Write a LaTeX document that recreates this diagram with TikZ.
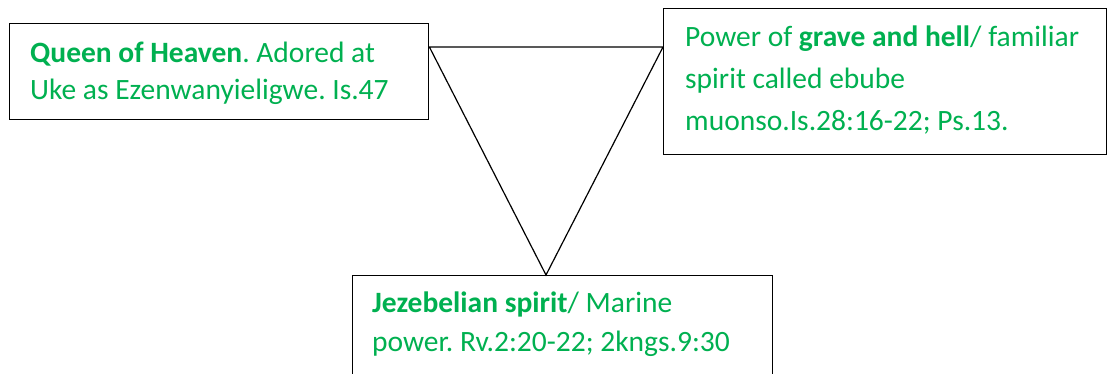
\documentclass[tikz,border=0pt]{standalone}
\usepackage{fontspec}
\setmainfont{Carlito}
\frenchspacing
\definecolor{spiritgreen}{RGB}{0,176,80}
\tikzset{
  box/.style={draw, rectangle, line width=1.4pt, inner sep=0pt, anchor=north west},
  txt/.style={anchor=base west, inner sep=0pt, text=spiritgreen, font=\fontsize{29.5}{37}\selectfont},
  tri/.style={line width=1.2pt, line join=miter}
}
\begin{document}
\begin{tikzpicture}[x=1pt, y=-1pt]
    \useasboundingbox (0,0) rectangle (1109,373);

    \node[box, minimum width=419, minimum height=96] (queen) at (9,23) {};
    \node[box, minimum width=443, minimum height=146] (grave) at (663,8) {};
    \node[box, minimum width=420, minimum height=150] (jezebel) at (352,275) {};

    \node[txt] (q1) at ([shift={(21,39)}]queen.north west) {\textbf{Queen of Heaven}. Adored at};
    \node[txt] (q2) at ([shift={(21,76)}]queen.north west) {Uke as Ezenwanyieligwe. Is.47};

    \node[txt] (g1) at ([shift={(22,38)}]grave.north west) {Power of \textbf{grave and hell}/ familiar};
    \node[txt] (g2) at ([shift={(22,80)}]grave.north west) {spirit called ebube};
    \node[txt] (g3) at ([shift={(22,122)}]grave.north west) {muonso.Is.28:16-22; Ps.13.};

    \node[txt] (j1) at ([shift={(20,37)}]jezebel.north west) {\textbf{Jezebelian spirit}/ Marine};
    \node[txt] (j2) at ([shift={(20,76)}]jezebel.north west) {power. Rv.2:20-22; 2kngs.9:30};

    \coordinate (tl) at ([yshift=-24pt]queen.north east);
    \coordinate (tr) at (grave.west |- tl);
    \coordinate (bt) at ([xshift=194pt]jezebel.north west);

    \draw[tri] (tl) -- (tr) -- (bt) -- cycle;
\end{tikzpicture}
\end{document}
